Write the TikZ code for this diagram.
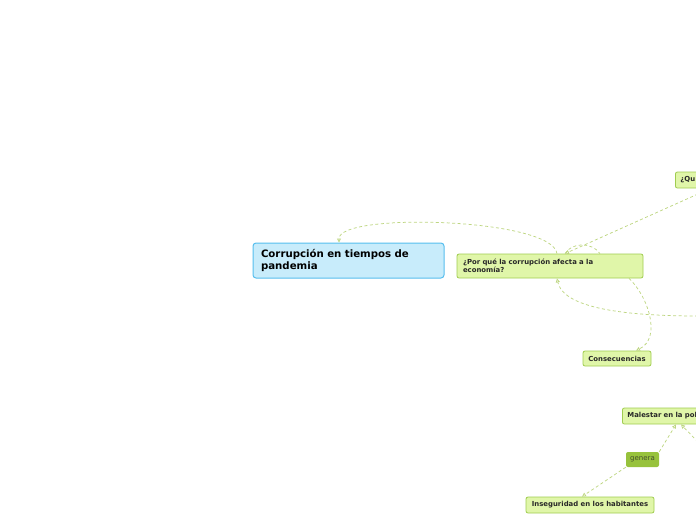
\documentclass[tikz,border=0pt]{standalone}
\usepackage{fontspec}
\setmainfont{DejaVu Sans}
\usetikzlibrary{positioning,arrows.meta}
\hyphenpenalty=10000
\definecolor{topicblue}{RGB}{200,236,251}
\definecolor{topicedge}{RGB}{86,190,238}
\definecolor{leafgreen}{RGB}{224,246,169}
\definecolor{leafedge}{RGB}{160,204,80}
\definecolor{linkgreen}{RGB}{190,214,130}
\definecolor{verbgreen}{RGB}{151,194,60}
\definecolor{inktext}{RGB}{40,40,40}
\tikzset{
  mainbox/.style={draw=topicedge,fill=topicblue,rounded corners=3pt,line width=1pt,text=black,font=\bfseries\fontsize{10.2}{12}\selectfont,align=left,inner sep=0pt,minimum width=191pt,minimum height=35pt,text width=175pt},
  leaf/.style={draw=leafedge,fill=leafgreen,rounded corners=2pt,line width=0.8pt,text=inktext,font=\bfseries\fontsize{6.9}{8.4}\selectfont,align=left,inner sep=0pt},
  verb/.style={fill=verbgreen,rounded corners=2pt,text=inktext!75!verbgreen,font=\fontsize{7}{8}\selectfont,inner sep=0pt,minimum width=33pt,minimum height=15pt},
  rel/.style={draw=linkgreen,dashed,dash pattern=on 3pt off 2.5pt,line width=0.75pt},
  relto/.style={rel,-{Triangle[open,length=4pt,width=4pt]}}
}
\begin{document}
\begin{tikzpicture}[x=1pt,y=-1pt]
  \useasboundingbox (0,0) rectangle (696,520);
  \clip (0,0) rectangle (696,520);
  % topics
  \node[mainbox] (main) at (348.5,260.5) {Corrupción en tiempos de\\pandemia};
  \node[leaf,minimum width=186pt,minimum height=24pt,text width=174pt] (porque) at (550,266) {¿Por qué la corrupción afecta a la\\economía?};
  \node[leaf,minimum width=80pt,minimum height=16pt,text width=70pt,anchor=west] (que) at (675,180) {¿Qu};
  \node[leaf,minimum width=68pt,minimum height=15pt] (conse) at (617,358.5) {Consecuencias};
  \node[leaf,minimum width=110pt,minimum height=16pt,text width=100pt,anchor=west] (malestar) at (622,416) {Malestar en la pol};
  \node[verb] (genera) at (642.5,459.5) {genera};
  \node[leaf,minimum width=128pt,minimum height=16pt] (inseg) at (590,505) {Inseguridad en los habitantes};
  % free ends at the right edge
  \coordinate (fromque) at (698,194);
  \coordinate (fromright) at (698,316);
  \coordinate (frommal) at (698,442);
  % relations
  \draw[relto] ([xshift=7pt]porque.north) .. controls (552,218) and (339,212) .. ([xshift=-9.5pt]main.north);
  \draw[relto] (fromque) -- ([xshift=15pt]porque.north);
  \draw[rel] ([xshift=15pt]porque.north) .. controls (572,242) and (592,242) .. ([xshift=50pt]porque.north);
  \draw[relto] (fromright) .. controls (600,316) and (562,302) .. ([xshift=7pt]porque.south);
  \draw[relto] ([xshift=79pt]porque.south) .. controls (648,296) and (662,338) .. ([xshift=19pt]conse.north);
  \draw[relto] (genera.north east) -- ([xshift=54pt]malestar.south west);
  \draw[relto] (genera.south west) -- ([xshift=-8pt]inseg.north);
  \draw[relto] (frommal) -- ([xshift=59pt]malestar.south west);
\end{tikzpicture}
\end{document}
